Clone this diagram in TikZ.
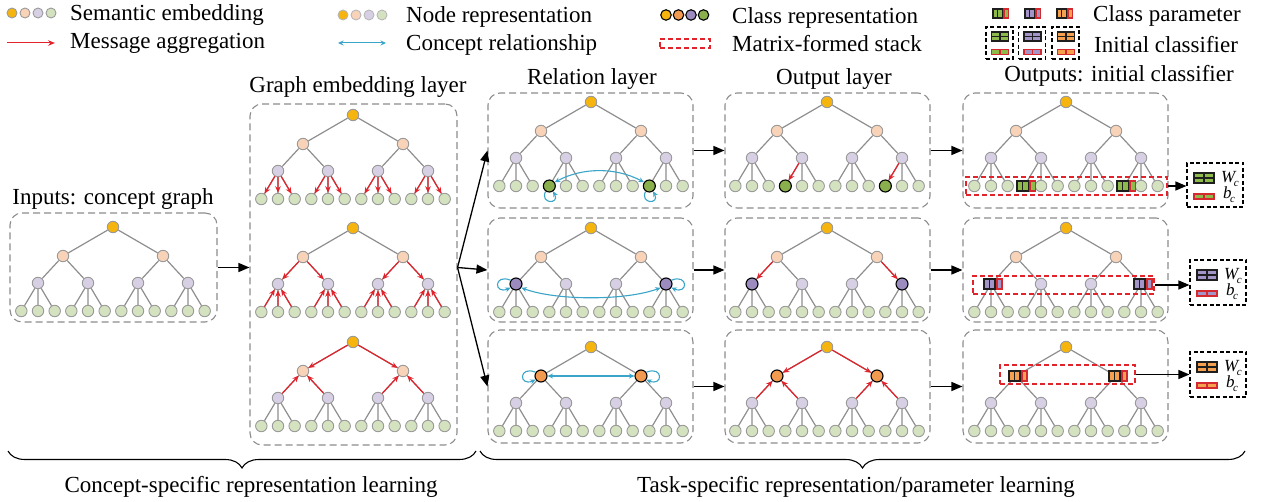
\documentclass[tikz,border=0pt]{standalone}
\usepackage{fontspec}
\setmainfont{Liberation Serif}
\usetikzlibrary{arrows.meta,decorations.pathreplacing,calc}
\definecolor{cyel}{HTML}{F6B40E}
\definecolor{cpeach}{HTML}{F8D3B8}
\definecolor{clav}{HTML}{D7D0E4}
\definecolor{cleaf}{HTML}{D4E2C0}
\definecolor{ndgrey}{HTML}{9A9A9A}
\definecolor{edgegrey}{HTML}{8E8E8E}
\definecolor{cred}{HTML}{E3232B}
\definecolor{cblue}{HTML}{3AA5C8}
\definecolor{cgreen}{HTML}{8AB04E}
\definecolor{cpurple}{HTML}{9C8BBF}
\definecolor{corange}{HTML}{F29A50}
\definecolor{boxgrey}{HTML}{8C8C8C}
\definecolor{icred}{HTML}{D42A2F}
\definecolor{icblack}{HTML}{1E1E1E}
\definecolor{icgreen}{HTML}{8DBA4A}
\definecolor{icpurple}{HTML}{A495C9}
\definecolor{icorange}{HTML}{F5A04E}

\tikzset{
 nd/.style={circle, minimum size=11.5pt, inner sep=0pt, line width=0.9pt, draw=ndgrey},
 rootn/.style={nd, fill=cyel},
 peach/.style={nd, fill=cpeach},
 lav/.style={nd, fill=clav},
 leaf/.style={nd, fill=cleaf},
 edge/.style={draw=edgegrey, line width=1.2pt},
 redarr/.style={draw=cred, line width=1.2pt, -{Stealth[length=6.5pt,width=5.5pt]}},
 cls/.style={circle, minimum size=12pt, inner sep=0pt, line width=1.1pt, draw=black},
 clsgreen/.style={cls, fill=cgreen},
 clspurple/.style={cls, fill=cpurple},
 clsorange/.style={cls, fill=corange},
 clsyellow/.style={cls, fill=cyel},
 dbox/.style={draw=boxgrey, line width=1.1pt, dash pattern=on 7pt off 4pt, rounded corners=12pt, inner sep=0pt},
 blk/.style={draw=black, line width=1.3pt, -{Triangle[length=11pt,width=9pt]}},
 bluel/.style={draw=cblue, line width=1.1pt},
 bluearr/.style={bluel, -{Stealth[length=5.5pt,width=5pt]}},
 bluedbl/.style={bluel, {Stealth[length=5.5pt,width=5pt]}-{Stealth[length=5.5pt,width=5pt]}},
 stack/.style={draw=cred, line width=1.1pt, dash pattern=on 5pt off 3pt, inner sep=0pt},
 clsbox/.style={draw=black, line width=1.1pt, dash pattern=on 4pt off 2.5pt, inner sep=0pt},
 lbl/.style={inner sep=0pt, font=\fontsize{23}{26}\selectfont},
 sublbl/.style={inner sep=0pt, font=\fontsize{17}{18}\selectfont\itshape},
 brc/.style={draw=black, line width=1.1pt, decorate, decoration={brace, mirror, amplitude=17pt}},
 lgd/.style={nd, minimum size=10pt},
}

\newcommand\mktree[3]{%
 \node[rootn] (#1r) at (#2,#3) {};
 \node[peach] (#1p1) at ({#2-50},{#3+29}) {};
 \node[peach] (#1p2) at ({#2+50},{#3+29}) {};
 \node[lav] (#1g1) at ({#2-75},{#3+56}) {};
 \node[lav] (#1g2) at ({#2-25},{#3+56}) {};
 \node[lav] (#1g3) at ({#2+25},{#3+56}) {};
 \node[lav] (#1g4) at ({#2+75},{#3+56}) {};
 \foreach \i in {1,...,12}{\node[leaf] (#1l\i) at ({#2-91.67+(\i-1)*16.667},{#3+84}) {};}
 \draw[edge] (#1r)--(#1p1) (#1r)--(#1p2) (#1p1)--(#1g1) (#1p1)--(#1g2) (#1p2)--(#1g3) (#1p2)--(#1g4);
 \foreach \g in {1,...,4}{\foreach \k in {1,2,3}{\pgfmathtruncatemacro\n{3*(\g-1)+\k}\draw[edge] (#1g\g)--(#1l\n);}}%
}

\newcommand\cpicon[3]{%
\begin{scope}[shift={#1}, scale=#3]
 \fill[icblack] (0,-6) rectangle (13,6);
 \fill[#2] (1.8,-4.4) rectangle (5.9,4.4);
 \fill[#2] (7.1,-4.4) rectangle (11.2,4.4);
 \fill[icred] (13,-6) rectangle (20,6);
 \fill[#2] (14.7,-4.4) rectangle (18.3,4.4);
\end{scope}}
\newcommand\wicon[3]{%
\begin{scope}[shift={#1}, scale=#3]
 \fill[icblack] (0,0) rectangle (22,12);
 \fill[#2] (1.8,1.6) rectangle (10.3,5.3);
 \fill[#2] (11.7,1.6) rectangle (20.2,5.3);
 \fill[#2] (1.8,6.7) rectangle (10.3,10.4);
 \fill[#2] (11.7,6.7) rectangle (20.2,10.4);
\end{scope}}
\newcommand\bicon[3]{%
\begin{scope}[shift={#1}, scale=#3]
 \fill[icred] (0,0) rectangle (22,7);
 \fill[#2] (2,1.6) rectangle (10.3,5.4);
 \fill[#2] (11.7,1.6) rectangle (20,5.4);
\end{scope}}
\newcommand\subc{\kern-1.5pt\raisebox{-4pt}{\fontsize{11}{11}\selectfont\itshape c}}

\begin{document}
\begin{tikzpicture}[x=1pt,y=-1pt]
\useasboundingbox (0,0) rectangle (1266,502);

% ---------- legend ----------
\node[lgd, fill=cyel]   (La1) at (12,13) {};
\node[lgd, fill=cpeach] (La2) at (25,13) {};
\node[lgd, fill=clav]   (La3) at (38,13) {};
\node[lgd, fill=cleaf]  (La4) at (51,13) {};
\node[lbl, anchor=base west] (Lt1) at (70,21) {Semantic embedding};
\coordinate (Lra) at (7,43); \coordinate (Lrb) at (55,43);
\draw[draw=cred, line width=1pt, -{Stealth[length=7pt,width=5.5pt]}] (Lra) -- (Lrb);
\node[lbl, anchor=base west] (Lt2) at (70,49) {Message aggregation};

\node[lgd, fill=cyel, draw=ndgrey!70]   (Lb1) at (343,15) {};
\node[lgd, fill=cpeach, draw=ndgrey!70] (Lb2) at (356,15) {};
\node[lgd, fill=clav, draw=ndgrey!70]   (Lb3) at (369,15) {};
\node[lgd, fill=cleaf, draw=ndgrey!70]  (Lb4) at (382,15) {};
\node[lbl, anchor=base west] (Lt3) at (406,23) {Node representation};
\coordinate (Lba) at (338,43); \coordinate (Lbb) at (386,43);
\draw[bluedbl, line width=1pt] (Lba) -- (Lbb);
\node[lbl, anchor=base west] (Lt4) at (406,51) {Concept relationship};

\node[cls, minimum size=10.5pt, fill=cyel]    (Lc1) at (666,15) {};
\node[cls, minimum size=10.5pt, fill=corange] (Lc2) at (678.5,15) {};
\node[cls, minimum size=10.5pt, fill=cpurple] (Lc3) at (691,15) {};
\node[cls, minimum size=10.5pt, fill=cgreen]  (Lc4) at (703.5,15) {};
\node[lbl, anchor=base west] (Lt5) at (732,24) {Class representation};
\node[stack, minimum width=50pt, minimum height=9pt] (Lstack) at (685,43.5) {};
\node[lbl, anchor=base west] (Lt6) at (732,52) {Matrix-formed stack};

\cpicon{(992,13.5)}{icgreen}{0.87}
\cpicon{(1024,13.5)}{icpurple}{0.87}
\cpicon{(1056,13.5)}{icorange}{0.87}
\node[lbl, anchor=base west] (Lt7) at (1093,22) {Class parameter};
\node[clsbox, minimum width=27pt, minimum height=32pt] (LB1) at (999.5,43) {};
\node[clsbox, minimum width=27pt, minimum height=32pt] (LB2) at (1032,43) {};
\node[clsbox, minimum width=27pt, minimum height=32pt] (LB3) at (1065.5,43) {};
\wicon{(990.5,31.5)}{icgreen}{0.86}  \bicon{(990.5,49)}{icgreen}{0.86}
\wicon{(1023,31.5)}{icpurple}{0.86}  \bicon{(1023,49)}{icpurple}{0.86}
\wicon{(1056.5,31.5)}{icorange}{0.86} \bicon{(1056.5,49)}{icorange}{0.86}
\node[lbl, anchor=base west] (Lt8) at (1094,53) {Initial classifier};

% ---------- titles ----------
\node[lbl, anchor=base] (Tin) at (113,205) {Inputs: concept graph};
\node[lbl, anchor=base] (Tg) at (358,93) {Graph embedding layer};
\node[lbl, anchor=base] (Tr) at (592,85) {Relation layer};
\node[lbl, anchor=base] (To) at (834,85) {Output layer};
\node[lbl, anchor=base] (Tp) at (1119,82) {Outputs: initial classifier};

% ---------- boxes ----------
\node[dbox, minimum width=207pt, minimum height=109pt] (Ibox) at (113.5,267.5) {};
\node[dbox, minimum width=207pt, minimum height=341pt] (Gbox) at (353.5,274.5) {};
\node[dbox, minimum width=205pt, minimum height=115pt] (R1) at (590.5,150.5) {};
\node[dbox, minimum width=205pt, minimum height=104pt] (R2) at (590.5,270) {};
\node[dbox, minimum width=205pt, minimum height=113pt] (R3) at (590.5,386.5) {};
\node[dbox, minimum width=205pt, minimum height=115pt] (O1) at (827.5,150.5) {};
\node[dbox, minimum width=205pt, minimum height=104pt] (O2) at (827.5,270) {};
\node[dbox, minimum width=205pt, minimum height=113pt] (O3) at (827.5,386.5) {};
\node[dbox, minimum width=205pt, minimum height=115pt] (P1) at (1065.5,150.5) {};
\node[dbox, minimum width=205pt, minimum height=104pt] (P2) at (1065.5,270) {};
\node[dbox, minimum width=205pt, minimum height=113pt] (P3) at (1065.5,386.5) {};

% ---------- trees ----------
\mktree{I}{113}{227}
\mktree{Ga}{353}{115}
\mktree{Gb}{353}{228}
\mktree{Gc}{353}{342}
\mktree{Ra}{591}{102}
\mktree{Rb}{591}{228}
\mktree{Rc}{591}{347}
\mktree{Oa}{827}{102}
\mktree{Ob}{827}{228}
\mktree{Oc}{827}{347}
\mktree{Pa}{1066}{102}
\mktree{Pb}{1066}{228}
\mktree{Pc}{1066}{347}

% graph embedding: message aggregation
\foreach \g in {1,...,4}{\foreach \k in {1,2,3}{\pgfmathtruncatemacro\n{3*(\g-1)+\k}
  \draw[redarr] (Gag\g) -- (Gal\n);
  \draw[redarr] (Gbl\n) -- (Gbg\g);}}
\draw[redarr] (Gbp1) -- (Gbg1); \draw[redarr] (Gbp1) -- (Gbg2);
\draw[redarr] (Gbp2) -- (Gbg3); \draw[redarr] (Gbp2) -- (Gbg4);
\draw[redarr] (Gcr) -- (Gcp1); \draw[redarr] (Gcr) -- (Gcp2);
\draw[redarr] (Gcg1) -- (Gcp1); \draw[redarr] (Gcg2) -- (Gcp1);
\draw[redarr] (Gcg3) -- (Gcp2); \draw[redarr] (Gcg4) -- (Gcp2);

% relation layer
\node[clsgreen] (Rac1) at (Ral4) {};
\node[clsgreen] (Rac2) at (Ral10) {};
\draw[bluedbl] (Rac1.35) .. controls +(28,-15) and +(-28,-15) .. (Rac2.145);
\draw[bluearr] (Rac1.235) .. controls +(-6,13) and +(7,13) .. (Rac1.305);
\draw[bluearr] (Rac2.235) .. controls +(-6,13) and +(7,13) .. (Rac2.305);

\node[clspurple] (Rbc1) at (Rbg1) {};
\node[clspurple] (Rbc2) at (Rbg4) {};
\draw[bluedbl] (Rbc1.-35) .. controls +(35,13) and +(-35,13) .. (Rbc2.215);
\draw[bluearr] (Rbc1.145) .. controls +(-17,-7) and +(-17,7) .. (Rbc1.215);
\draw[bluearr] (Rbc2.35) .. controls +(17,-7) and +(17,7) .. (Rbc2.-35);

\node[clsorange] (Rcc1) at (Rcp1) {};
\node[clsorange] (Rcc2) at (Rcp2) {};
\draw[bluedbl] (Rcc1.east) -- (Rcc2.west);
\draw[bluearr] (Rcc1.145) .. controls +(-17,-7) and +(-17,7) .. (Rcc1.215);
\draw[bluearr] (Rcc2.35) .. controls +(17,-7) and +(17,7) .. (Rcc2.-35);

% output layer
\node[clsgreen] (Oac1) at (Oal4) {};
\node[clsgreen] (Oac2) at (Oal10) {};
\draw[redarr] (Oag2) -- (Oac1); \draw[redarr] (Oag4) -- (Oac2);
\node[clspurple] (Obc1) at (Obg1) {};
\node[clspurple] (Obc2) at (Obg4) {};
\draw[redarr] (Obp1) -- (Obc1); \draw[redarr] (Obp2) -- (Obc2);
\node[clsorange] (Occ1) at (Ocp1) {};
\node[clsorange] (Occ2) at (Ocp2) {};
\draw[redarr] (Ocr) -- (Occ1); \draw[redarr] (Ocr) -- (Occ2);
\draw[redarr] (Ocg1) -- (Occ1); \draw[redarr] (Ocg2) -- (Occ1);
\draw[redarr] (Ocg3) -- (Occ2); \draw[redarr] (Ocg4) -- (Occ2);

% outputs: class parameters and stacks
\node[stack, minimum width=201pt, minimum height=18pt] (S1) at (1066.5,186) {};
\node[stack, minimum width=181pt, minimum height=18pt] (S2) at (1063.5,285) {};
\node[stack, minimum width=135pt, minimum height=19pt] (S3) at (1067.5,374.5) {};
\cpicon{(1016.3,186)}{icgreen}{1}
\cpicon{(1116.3,186)}{icgreen}{1}
\cpicon{(983,284)}{icpurple}{1}
\cpicon{(1133,284)}{icpurple}{1}
\cpicon{(1008,376)}{icorange}{1}
\cpicon{(1108,376)}{icorange}{1}

% classifiers
\node[clsbox, minimum width=56pt, minimum height=44pt] (C1) at (1215,185) {};
\node[clsbox, minimum width=56pt, minimum height=45pt] (C2) at (1218,282.5) {};
\node[clsbox, minimum width=56pt, minimum height=45pt] (C3) at (1218,374.5) {};
\wicon{(1193,172)}{icgreen}{1} \bicon{(1193,193)}{icgreen}{1}
\wicon{(1196,269)}{icpurple}{1} \bicon{(1196,290)}{icpurple}{1}
\wicon{(1196,361)}{icorange}{1} \bicon{(1196,382)}{icorange}{1}
\node[sublbl, anchor=base west] (C1w) at (1221,183) {W\subc};
\node[sublbl, anchor=base west] (C1b) at (1223,199) {b\subc};
\node[sublbl, anchor=base west] (C2w) at (1224,280) {W\subc};
\node[sublbl, anchor=base west] (C2b) at (1226,296) {b\subc};
\node[sublbl, anchor=base west] (C3w) at (1224,372) {W\subc};
\node[sublbl, anchor=base west] (C3b) at (1226,388) {b\subc};

% ---------- main arrows ----------
\draw[blk] (Ibox.east) -- (Ibox.east -| Gbox.west);
\coordinate (gout) at (Gbox.east |- Ibox.east);
\draw[blk] (gout) -- (R1.west);
\draw[blk] (gout) -- (R2.west);
\draw[blk] (gout) -- (R3.west);
\draw[blk] (R1.east) -- (O1.west);
\draw[blk] (R2.east) -- (O2.west);
\draw[blk] (R3.east) -- (O3.west);
\draw[blk] (O1.east) -- (P1.west);
\draw[blk] (O2.east) -- (P2.west);
\draw[blk] (O3.east) -- (P3.west);
\draw[blk] (S1.east) -- (S1.east -| C1.west);
\draw[blk] (S2.east) -- (S2.east -| C2.west);
\draw[blk] (S3.east) -- (S3.east -| C3.west);

% ---------- braces ----------
\coordinate (B1a) at (8,451); \coordinate (B1b) at (476,451);
\coordinate (B2a) at (480,451); \coordinate (B2b) at (1245,451);
\draw[brc] (B1a) -- (B1b);
\draw[brc] (B2a) -- (B2b);
\node[lbl, anchor=base] (Bl1) at (251,492) {Concept-specific representation learning};
\node[lbl, anchor=base] (Bl2) at (856,492) {Task-specific representation/parameter learning};
\end{tikzpicture}
\end{document}
